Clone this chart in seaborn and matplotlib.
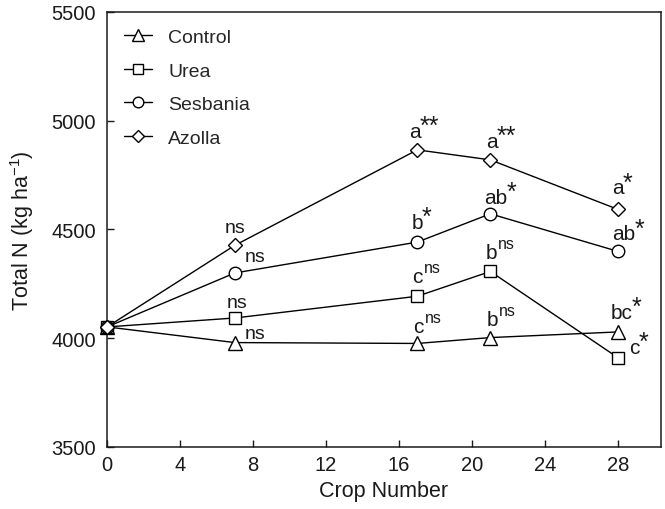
import matplotlib
matplotlib.use("Agg")
import matplotlib.pyplot as plt
import seaborn as sns

# Crop number and total N (kg/ha) per treatment
crops = [0, 7, 17, 21, 28]
control = [4052, 3980, 3976, 4003, 4029]
urea = [4052, 4093, 4193, 4307, 3910]
sesbania = [4052, 4300, 4442, 4572, 4399]
azolla = [4052, 4427, 4866, 4820, 4592]

treatments = ["Control", "Urea", "Sesbania", "Azolla"]
# (letter, superscript) labels for each point
control_notes = [None, ("ns", ""), ("c", "ns"), ("b", "ns"), ("bc", "*")]
urea_notes = [None, ("ns", ""), ("c", "ns"), ("b", "ns"), ("c", "*")]
sesbania_notes = [None, ("ns", ""), ("b", "*"), ("ab", "*"), ("ab", "*")]
azolla_notes = [None, ("ns", ""), ("a", "**"), ("a", "**"), ("a", "*")]

sns.set_theme(style="ticks")
plt.rcParams["font.family"] = ["Liberation Sans", "DejaVu Sans"]
plt.rcParams["mathtext.fontset"] = "custom"
plt.rcParams["mathtext.rm"] = "Liberation Sans"
plt.rcParams["mathtext.default"] = "regular"

INK = "#1a1a1a"
series = [control, urea, sesbania, azolla]
notes = [control_notes, urea_notes, sesbania_notes, azolla_notes]
markers = ["^", "s", "o", "D"]
msizes = [10, 9, 9, 7.5]
# label offsets in pixels (dx, dy) per point
offsets = [
    [None, (10, 5), (-4, 11), (-4, 13), (-7, 14)],
    [None, (-8, 11), (-5, 14), (-5, 13), (11, 5)],
    [None, (10, 12), (-6, 14), (-6, 11), (-6, 12)],
    [None, (-10, 13), (-8, 13), (-4, 13), (-6, 16)],
]

fig = plt.figure(figsize=(6.65, 5.1), dpi=100)
ax = fig.add_axes([0.161, 0.1216, 0.833, 0.853])

for name, vals, m, ms in zip(treatments, series, markers, msizes):
    sns.lineplot(x=crops, y=vals, ax=ax, color="black", linewidth=1,
                 marker=m, markersize=ms, markerfacecolor="white",
                 markeredgecolor="black", markeredgewidth=1, label=name,
                 clip_on=False, zorder=3)

for vals, labs, offs in zip(series, notes, offsets):
    for x, y, t, o in zip(crops, vals, labs, offs):
        if t is None:
            continue
        size = 14 if t[0] == "ns" else 15
        base = ax.annotate(t[0], (x, y), xytext=o, textcoords="offset pixels",
                           ha="left", va="baseline", fontsize=size, color=INK)
        if t[1] == "ns":
            ax.annotate("ns", (1, 0), xycoords=base, xytext=(1, 14),
                        textcoords="offset pixels", ha="left",
                        va="baseline", fontsize=11.5, color=INK)
        elif t[1]:
            ax.annotate(t[1], (1, 0), xycoords=base, xytext=(-1, 8),
                        textcoords="offset pixels", ha="left",
                        va="baseline", fontsize=18, color=INK)

ax.set_xlim(0, 30.35)
ax.set_ylim(3500, 5500)
ax.set_xticks(range(0, 29, 4))
ax.set_yticks([3500, 4000, 4500, 5000, 5500])
ax.tick_params(direction="in", length=5, width=1, labelsize=14.5,
               colors=INK)
ax.tick_params(axis="x", pad=6)
ax.tick_params(axis="y", pad=8)
for s in ax.spines.values():
    s.set_linewidth(1.1)
    s.set_color(INK)

ax.set_xlabel("Crop Number", fontsize=15.5, color=INK, labelpad=4)
ax.set_ylabel(r"Total N (kg ha$^{-1}$)", fontsize=15.5, color=INK,
              labelpad=11)

ax.legend(loc="upper left", frameon=False, fontsize=14, handlelength=1.45,
          labelspacing=0.82, borderaxespad=0.45, handletextpad=0.85,
          markerscale=0.85, bbox_to_anchor=(0.0, 1.0))

fig.savefig("out.png", dpi=100)
